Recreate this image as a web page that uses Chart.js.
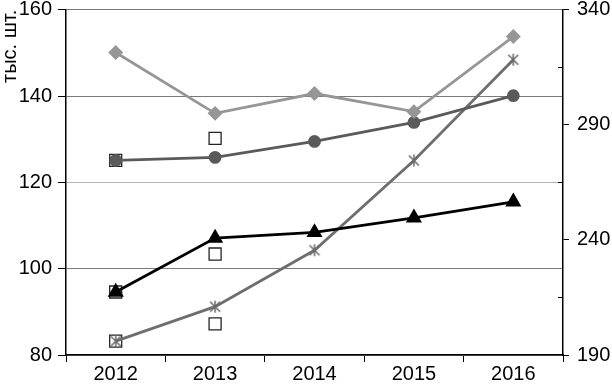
<!DOCTYPE html>
<html>
<head>
<meta charset="utf-8">
<script src="https://cdn.jsdelivr.net/npm/chart.js@4"></script>
<style>
  body { margin: 0; background: #fff; }
</style>
</head>
<body>
<canvas id="chartYears" width="612" height="386"></canvas>
<script>
var years = ['2012', '2013', '2014', '2015', '2016'];

// left axis, тыс. шт.
var diamondValues = [150.1, 136.0, 140.6, 136.4, 153.8];
var circleValues = [125.1, 125.8, 129.5, 133.9, 140.1];
var triangleValues = [94.6, 107.1, 108.4, 111.8, 115.5];
// right axis
var starValues = [196, 211, 235.5, 274.5, 318.3];

// open squares, no line
var squareTop = [125.1, 130.2, null, null, null];
var squareMid = [94.6, 103.4, null, null, null];
var squareLow = [83.2, 87.2, null, null, null];

// Excel-like star marker: an X with a vertical stroke
var starMarker = document.createElement('canvas');
starMarker.width = 14;
starMarker.height = 14;
var sm = starMarker.getContext('2d');
sm.strokeStyle = '#6a6a6a';
sm.lineWidth = 1.5;
sm.beginPath();
sm.moveTo(2, 2); sm.lineTo(12, 12);
sm.moveTo(12, 2); sm.lineTo(2, 12);
sm.moveTo(7, 1); sm.lineTo(7, 13);
sm.stroke();

Chart.defaults.font.family = '"Liberation Sans", Arial, sans-serif';
Chart.defaults.font.size = 20;
Chart.defaults.color = '#000';

var tickFont = { size: 20, lineHeight: 0.9 };

function squares(values) {
    return {
        data: values,
        yAxisID: 'y',
        showLine: false,
        pointStyle: 'rect',
        pointRadius: 8.5,
        pointBorderWidth: 1.3,
        pointBorderColor: '#222',
        pointBackgroundColor: 'rgba(0,0,0,0)',
        order: 5
    };
}

// small inward ticks between the labels of the right axis
var minorTicks = {
    id: 'minorTicks',
    afterDraw: function(chart) {
        var s = chart.scales.y2;
        var c = chart.ctx;
        c.save();
        c.strokeStyle = '#000';
        c.lineWidth = 1;
        for (var i = 0; i < s.ticks.length - 1; i++) {
            var mid = (s.ticks[i].value + s.ticks[i + 1].value) / 2;
            var py = Math.round(s.getPixelForValue(mid)) + 0.5;
            c.beginPath();
            c.moveTo(s.left - 5, py);
            c.lineTo(s.left, py);
            c.stroke();
        }
        c.restore();
    }
};

var ctx = document.getElementById('chartYears').getContext('2d');

var myChart = new Chart(ctx, {
    type: 'line',
    data: {
        labels: years,
        datasets: [
            {
                data: diamondValues,
                yAxisID: 'y',
                borderColor: '#969696',
                backgroundColor: '#969696',
                borderWidth: 2.8,
                pointStyle: 'rectRot',
                pointRadius: 5.5,
                order: 1
            },
            {
                data: circleValues,
                yAxisID: 'y',
                borderColor: '#5a5a5a',
                backgroundColor: '#5a5a5a',
                borderWidth: 2.8,
                pointStyle: 'circle',
                pointRadius: 5,
                order: 2
            },
            {
                data: triangleValues,
                yAxisID: 'y',
                borderColor: '#000',
                backgroundColor: '#000',
                borderWidth: 2.8,
                pointStyle: 'triangle',
                pointRadius: 6.5,
                order: 3
            },
            {
                data: starValues,
                yAxisID: 'y2',
                borderColor: '#6e6e6e',
                backgroundColor: '#6e6e6e',
                borderWidth: 2.8,
                pointStyle: starMarker,
                order: 4
            },
            squares(squareTop),
            squares(squareMid),
            squares(squareLow)
        ]
    },
    plugins: [minorTicks],
    options: {
        responsive: false,
        animation: false,
        layout: {
            padding: 0
        },
        plugins: {
            legend: { display: false },
            tooltip: { enabled: false }
        },
        scales: {
            x: {
                offset: true,
                border: { color: '#000', width: 1.5 },
                grid: {
                    offset: true,
                    drawOnChartArea: false,
                    drawTicks: true,
                    tickLength: 7,
                    tickColor: '#000'
                },
                ticks: { padding: 3, font: tickFont },
                afterFit: function(s) { s.height = 31; }
            },
            y: {
                position: 'left',
                min: 80,
                max: 160,
                border: { color: '#000', width: 1.5 },
                ticks: { stepSize: 20, padding: 6, font: tickFont },
                grid: {
                    color: function(c) {
                        return c.tick && c.tick.value === 120 ? '#b4b4b4' : '#7a7a7a';
                    },
                    tickColor: '#000',
                    tickLength: 8
                },
                title: {
                    display: true,
                    text: 'тыс. шт.',
                    align: 'end',
                    font: { size: 20, lineHeight: 1 },
                    padding: { top: 0, bottom: 0 }
                },
                afterFit: function(s) {
                    s.width = 66;
                    s.paddingTop = 9;
                    s.paddingBottom = 0;
                }
            },
            y2: {
                position: 'right',
                min: 190,
                max: 340,
                border: { color: '#000', width: 1.5 },
                ticks: { stepSize: 50, padding: 8, font: tickFont },
                grid: {
                    drawOnChartArea: false,
                    tickColor: '#000',
                    tickLength: 6
                },
                afterFit: function(s) {
                    s.width = 49;
                    s.paddingTop = 9;
                    s.paddingBottom = 0;
                }
            }
        }
    }
});
</script>
</body>
</html>
